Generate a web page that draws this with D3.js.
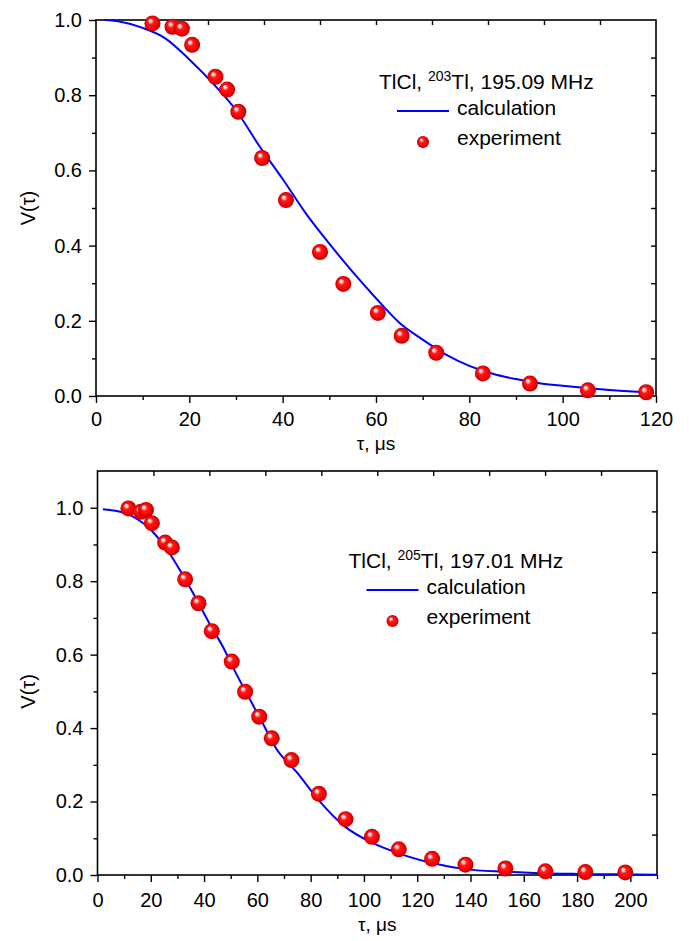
<!DOCTYPE html>
<html>
<head>
<meta charset="utf-8">
<script src="https://cdn.jsdelivr.net/npm/d3@7"></script>
<style>
  body { margin: 0; background: #fff; }
  text { font-family: "Liberation Sans", Arial, sans-serif; fill: #000; }
</style>
</head>
<body>
<svg id="fig" width="689" height="941"></svg>
<script>
'use strict'

// TlCl, 203Tl, 195.09 MHz
const expTau203 = [12.1, 16.4, 18.4, 20.6, 25.6, 28.1, 30.5, 35.6, 40.7, 48.0, 53.0, 60.4, 65.5, 72.9, 82.9, 93.0, 105.4, 117.9]
const expV203 = [0.991, 0.982, 0.977, 0.934, 0.849, 0.815, 0.756, 0.633, 0.521, 0.383, 0.298, 0.221, 0.160, 0.115, 0.060, 0.033, 0.015, 0.010]
const calcTau203 = [2, 5, 10, 15, 20, 25, 30, 35, 40, 45, 50, 55, 60, 65, 70, 75, 80, 85, 90, 95, 100, 105, 110, 115, 119]
const calcV203 = [1.0, 0.996, 0.979, 0.950, 0.895, 0.832, 0.760, 0.665, 0.577, 0.485, 0.405, 0.330, 0.260, 0.195, 0.150, 0.110, 0.080, 0.059, 0.045, 0.034, 0.027, 0.021, 0.016, 0.012, 0.009]

// TlCl, 205Tl, 197.01 MHz
const expTau205 = [11.6, 16.3, 18.2, 20.4, 25.4, 27.9, 32.9, 37.9, 42.9, 50.4, 55.4, 60.7, 65.4, 72.8, 83.1, 93.1, 103.0, 113.1, 125.6, 138.1, 153.1, 168.1, 183.1, 198.1]
const expV205 = [0.998, 0.989, 0.994, 0.958, 0.905, 0.892, 0.805, 0.740, 0.664, 0.581, 0.499, 0.431, 0.372, 0.313, 0.221, 0.152, 0.104, 0.070, 0.044, 0.028, 0.018, 0.010, 0.008, 0.007]
const calcTau205 = [2, 10, 20, 27, 32, 37, 42, 47, 52, 57, 62, 67, 75, 83, 93, 103, 113, 126, 138, 153, 166, 180, 195, 210]
const calcV205 = [0.996, 0.986, 0.940, 0.876, 0.817, 0.753, 0.685, 0.622, 0.549, 0.481, 0.413, 0.345, 0.278, 0.204, 0.131, 0.088, 0.059, 0.032, 0.016, 0.009, 0.005, 0.003, 0.002, 0.001]

const panels = [
  { left: 96, top: 20, width: 560, height: 376, xMax: 120, yMax: 1.0, pad: 9,
    expTau: expTau203, expV: expV203, calcTau: calcTau203, calcV: calcV203,
    isotope: '203', freq: '195.09 MHz', legX: 283, legY: 69, labelY: 450 },
  { left: 97.5, top: 471, width: 559.5, height: 404, xMax: 210, yMax: 1.1, pad: 11,
    expTau: expTau205, expV: expV205, calcTau: calcTau205, calcV: calcV205,
    isotope: '205', freq: '197.01 MHz', legX: 251, legY: 97, labelY: 931 }
]

const svg = d3.select('#fig')

const grad = svg.append('defs').append('radialGradient')
  .attr('id', 'ball')
  .attr('cx', '50%').attr('cy', '50%').attr('r', '50%')
  .attr('fx', '33%').attr('fy', '30%')
grad.append('stop').attr('offset', '0%').attr('stop-color', '#ffffff')
grad.append('stop').attr('offset', '16%').attr('stop-color', '#ffd4d4')
grad.append('stop').attr('offset', '38%').attr('stop-color', '#ff1a1a')
grad.append('stop').attr('offset', '80%').attr('stop-color', '#f00000')
grad.append('stop').attr('offset', '100%').attr('stop-color', '#b80000')

function drawPanel(p) {
  const g = svg.append('g').attr('transform', `translate(${p.left},${p.top})`)
  const x = d3.scaleLinear().domain([0, p.xMax]).range([0, p.width])
  const y = d3.scaleLinear().domain([0, p.yMax]).range([p.height, 0])

  const fontSize = '20px'

  // bottom axis, major + minor
  g.append('g').attr('transform', `translate(0,${p.height})`)
    .call(d3.axisBottom(x).tickValues(d3.range(0, p.xMax + 1, 20)).tickFormat(d3.format('d'))
      .tickSize(7).tickPadding(p.pad).tickSizeOuter(0))
    .call(a => a.select('.domain').remove())
    .call(a => a.selectAll('text').style('font-size', fontSize))
  g.append('g').attr('transform', `translate(0,${p.height})`)
    .call(d3.axisBottom(x).tickValues(d3.range(10, p.xMax + 1, 20)).tickFormat('').tickSize(4).tickSizeOuter(0))
    .call(a => a.select('.domain').remove())

  // left axis, major + minor
  g.append('g')
    .call(d3.axisLeft(y).tickValues(d3.range(0, 1.01, 0.2)).tickFormat(d3.format('.1f'))
      .tickSize(7).tickPadding(7).tickSizeOuter(0))
    .call(a => a.select('.domain').remove())
    .call(a => a.selectAll('text').style('font-size', fontSize))
  g.append('g')
    .call(d3.axisLeft(y).tickValues(d3.range(0.1, 1.0, 0.2)).tickFormat('').tickSize(4).tickSizeOuter(0))
    .call(a => a.select('.domain').remove())

  // top and right axes: ten equal divisions, ticks inward
  const xTop = d3.scaleLinear().domain([0, 10]).range([0, p.width])
  const yRight = d3.scaleLinear().domain([0, 10]).range([p.height, 0])
  g.append('g')
    .call(d3.axisTop(xTop).tickValues(d3.range(1, 10)).tickFormat('').tickSize(-5).tickSizeOuter(0))
    .call(a => a.select('.domain').remove())
  g.append('g').attr('transform', `translate(${p.width},0)`)
    .call(d3.axisRight(yRight).tickValues(d3.range(1, 10)).tickFormat('').tickSize(-5).tickSizeOuter(0))
    .call(a => a.select('.domain').remove())

  g.selectAll('.tick line').attr('stroke', '#000').attr('stroke-width', 1.4)

  g.append('rect')
    .attr('width', p.width).attr('height', p.height)
    .attr('fill', 'none').attr('stroke', '#000').attr('stroke-width', 1.6)

  // calculation curve
  const calc = p.calcTau.map((t, i) => [t, p.calcV[i]])
  g.append('path')
    .datum(calc)
    .attr('fill', 'none').attr('stroke', '#0000ff').attr('stroke-width', 2)
    .attr('d', d3.line().x(d => x(d[0])).y(d => y(d[1])).curve(d3.curveMonotoneX))

  // experiment points
  const exp = p.expTau.map((t, i) => [t, p.expV[i]])
  g.selectAll('circle.exp')
    .data(exp)
    .join('circle')
    .attr('class', 'exp')
    .attr('cx', d => x(d[0])).attr('cy', d => y(d[1]))
    .attr('r', 8)
    .attr('fill', 'url(#ball)')

  // axis titles
  svg.append('text')
    .attr('transform', `translate(35,${p.top + y(0.5)}) rotate(-90)`)
    .attr('text-anchor', 'middle')
    .style('font-size', '20px')
    .text('V(τ)')
  svg.append('text')
    .attr('x', p.left + p.width / 2).attr('y', p.labelY)
    .attr('text-anchor', 'middle')
    .style('font-size', '19px')
    .text('τ, μs')

  // legend
  const leg = g.append('g').attr('transform', `translate(${p.legX},${p.legY})`)
  const title = leg.append('text').style('font-size', '21px')
  title.append('tspan').text('TlCl, ')
  title.append('tspan').attr('dy', -8).style('font-size', '14px').text(p.isotope)
  title.append('tspan').attr('dy', 8).text('Tl, ' + p.freq)

  leg.append('line')
    .attr('x1', 18).attr('x2', 70).attr('y1', 22).attr('y2', 22)
    .attr('stroke', '#0000ff').attr('stroke-width', 2)
  leg.append('text').attr('x', 78).attr('y', 26).style('font-size', '21px').text('calculation')
  leg.append('circle').attr('cx', 44).attr('cy', 53).attr('r', 6).attr('fill', 'url(#ball)')
  leg.append('text').attr('x', 78).attr('y', 56).style('font-size', '21px').text('experiment')
}

panels.forEach(drawPanel)
</script>
</body>
</html>
